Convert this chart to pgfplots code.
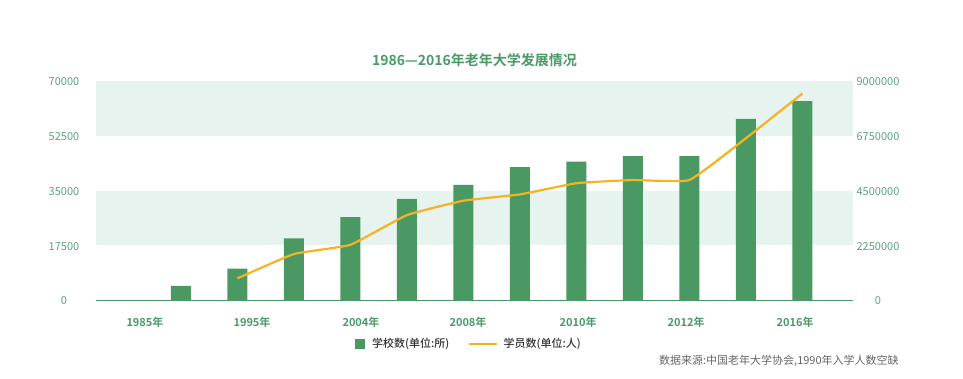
\documentclass[border=0pt]{standalone}
\usepackage{pgfplots}
\pgfplotsset{compat=1.18}
\usepackage{fontspec}
\setmainfont{Noto Sans CJK SC}[BoldFont={Noto Sans CJK SC Bold}]
\newfontfamily\medfont{Noto Sans CJK SC Medium}
\definecolor{barc}{HTML}{4A9963}
\definecolor{bandc}{HTML}{E7F3EE}
\definecolor{linec}{HTML}{F5B324}
\definecolor{tickc}{HTML}{5AA37C}
\definecolor{titlec}{HTML}{4A9A68}
\definecolor{srcc}{HTML}{666666}
\newcommand{\fs}{\fontsize{11pt}{13pt}\selectfont}
\begin{document}
\begin{tikzpicture}
\path[use as bounding box] (-96pt,-78pt) rectangle (867pt,300pt);
\begin{axis}[
  name=main, at={(0,0)}, anchor=south west,
  scale only axis, width=757pt, height=219pt,
  clip=false, axis on top,
  xmin=-0.504, xmax=12.894, ymin=0, ymax=70000,
  axis x line*=bottom, axis y line*=left,
  y axis line style={draw=none},
  x axis line style={draw=titlec, line width=1pt, -},
  tick style={draw=none},
  ytick={0,17500,35000,52500,70000},
  scaled y ticks=false,
  /pgf/number format/fixed,
  /pgf/number format/assume math mode=true,
  /pgf/number format/1000 sep={},
  yticklabel style={anchor=center, xshift=-32pt, yshift=-1pt, font=\fs, text=tickc},
  xtick={0.363,2.257,4.186,6.08,8.03,9.94,11.87},
  xticklabels={1985年,1995年,2004年,2008年,2010年,2012年,2016年},
  xticklabel style={anchor=center, yshift=-22pt, font=\fs\bfseries, text=titlec},
  title={1986—2016年老年大学发展情况},
  title style={at={(0.5,1)}, anchor=center, yshift=15pt, font=\fontsize{14pt}{16pt}\selectfont\bfseries, text=titlec},
  legend columns=2,
  legend style={at={(0.4927,-0.2009)}, anchor=center, draw=none, fill=none, font=\fs\medfont, text=black!80,
    /tikz/every even column/.append style={column sep=17pt}},
]
\addplot[draw=none, fill=bandc, forget plot] coordinates {(-0.504,52500) (12.894,52500) (12.894,70000) (-0.504,70000)} -- cycle;
\addplot[draw=none, fill=bandc, forget plot] coordinates {(-0.504,17500) (12.894,17500) (12.894,35000) (-0.504,35000)} -- cycle;
\addplot[ybar, bar width=20pt, fill=barc, draw=none,
  legend image code/.code={\fill[barc] (0pt,-5pt) rectangle (10pt,5pt); \path (15pt,0pt);}]
  coordinates {(1,4500) (2,10000) (3,19700) (4,26500) (5,32300) (6,36800)
  (7,42500) (8,44200) (9,46000) (10,46000) (11,57900) (12,63600)};
\addlegendentry{学校数(单位:所)}
\addlegendimage{legend image code/.code={\draw[linec, line width=2.2pt] (0pt,0pt) -- (28pt,0pt); \path (32pt,0pt);}}
\addlegendentry{学员数(单位:人)}
\node[anchor=east, font=\fs, text=srcc] at (rel axis cs:1.065,-0.28) {数据来源:中国老年大学协会,1990年入学人数空缺};
\end{axis}
\begin{axis}[
  at={(0,0)}, anchor=south west,
  scale only axis, width=757pt, height=219pt,
  xmin=-0.504, xmax=12.894, ymin=0, ymax=9000000,
  axis x line=none, axis y line*=right,
  y axis line style={draw=none},
  tick style={draw=none},
  ytick={0,2250000,4500000,6750000,9000000},
  scaled y ticks=false,
  /pgf/number format/fixed,
  /pgf/number format/assume math mode=true,
  /pgf/number format/1000 sep={},
  yticklabel style={anchor=center, xshift=25pt, yshift=-1pt, font=\fs, text=tickc},
]
\addplot[linec, line width=2.2pt, smooth, tension=0.22, mark=none]
  coordinates {(2,890000) (3,1890000) (4,2270000) (5,3490000) (6,4080000)
  (7,4340000) (8,4800000) (9,4930000) (10,4930000) (11,6650000) (12,8490000)};
\end{axis}
\end{tikzpicture}
\end{document}
